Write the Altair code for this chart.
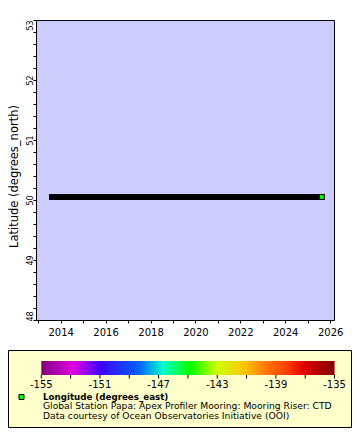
import altair as alt
import pandas as pd

# ---- data ----
track_time = ["2013-08-12", "2025-08-17"]
track_lat = [50.05, 50.05]
last_time = ["2025-08-17"]
last_lat = [50.05]
last_lon = [-144.85]

year_ticks = list(range(2013, 2027))
lat_ticks = [round(48 + 0.2 * i, 1) for i in range(26)]

cbar_stops = [-155, -152.8, -151, -148.3, -146.7, -144.85, -143, -141, -139.9, -138.3, -137.1, -135]
cbar_colors = ["#800080", "#e000e0", "#4000ff", "#0064ff", "#00ffc8", "#00ff00",
               "#d0ff00", "#ffc000", "#ff8000", "#ff4000", "#e00000", "#800000"]
cbar_tick_values = [-155, -153, -151, -149, -147, -145, -143, -141, -139, -137, -135]
cbar_label_values = [-155, -151, -147, -143, -139, -135]

legend_title = "Longitude (degrees_east)"
legend_lines = ["Global Station Papa: Apex Profiler Mooring: Mooring Riser: CTD",
                "Data courtesy of Ocean Observatories Initiative (OOI)"]

FONT = "DejaVu Sans"
W, H = 299, 300

one = pd.DataFrame({"a": [0]})

x_scale = alt.Scale(type="utc",
                    domain=[alt.DateTime(year=2012, month=11, date=25, utc=True),
                            alt.DateTime(year=2026, month=3, date=21, utc=True)])
y_scale = alt.Scale(domain=[48, 53], nice=False, zero=False)
lon_color = alt.Scale(domain=cbar_stops, range=cbar_colors)

x_axis = alt.Axis(
    values=[alt.DateTime(year=y, month=1, date=1, utc=True) for y in year_ticks],
    tickCount=40,
    labelExpr="utcyear(datum.value) % 2 == 0 ? utcFormat(datum.value, '%Y') : ''",
    title=None, grid=False, domain=False, tickSize=3, tickColor="black",
    labelFontSize=10, labelPadding=4, labelColor="black", labelAngle=0,
    labelOverlap=False, labelFlush=False, labelBound=False,
)
y_axis = alt.Axis(
    values=lat_ticks,
    tickCount=40,
    labelExpr="abs(datum.value - round(datum.value)) < 0.001 ? format(datum.value, 'd') : ''",
    title="Latitude (degrees_north)", titleFontSize=11.5, titleFontWeight="normal",
    titleColor="black", titleX=-21.5, titleY=156, titleAlign="center", titleBaseline="middle",
    grid=False, domain=False, tickSize=3, tickColor="black",
    labelFontSize=8, labelAngle=-90, labelAlign="center", labelBaseline="alphabetic",
    labelPadding=1, labelColor="black", labelOverlap=False, labelFlush=False, labelBound=False,
    labelOffset={"condition": [{"test": "datum.value >= 52.99", "value": 5},
                               {"test": "datum.value <= 48.01", "value": -4}],
                 "value": 0},
)

track = alt.Chart(pd.DataFrame({"time": track_time, "lat": track_lat})).mark_line(
    color="black", strokeWidth=6, strokeCap="square"
).encode(
    x=alt.X("time:T", scale=x_scale, axis=x_axis),
    y=alt.Y("lat:Q", scale=y_scale, axis=y_axis),
)
end_pt = alt.Chart(pd.DataFrame({"time": last_time, "lat": last_lat, "lon": last_lon})).mark_square(
    size=25, stroke="black", strokeWidth=1, opacity=1, filled=True
).encode(
    x=alt.X("time:T"),
    y=alt.Y("lat:Q"),
    fill=alt.Fill("lon:Q", scale=lon_color, legend=None),
)
border = alt.Chart(one).mark_rect(fill=None, stroke="black", strokeWidth=1).encode(
    x=alt.value(0.5), x2=alt.value(W - 0.5), y=alt.value(0.5), y2=alt.value(H + 0.5)
)
main = alt.layer(track, end_pt, border)

# ---- legend panel ----
box = alt.Chart(one).mark_rect(fill="#ffffcc", stroke="black", strokeWidth=1).encode(
    x=alt.value(-27.5), x2=alt.value(315.5), y=alt.value(330.5), y2=alt.value(407.5)
)
cb_scale = alt.Scale(domain=[-155.36, -134.97], nice=False, zero=False)
grad = alt.Gradient(
    gradient="linear",
    stops=[alt.GradientStop(color=c, offset=(v + 155) / 20) for v, c in zip(cbar_stops, cbar_colors)],
    x1=0, x2=1, y1=0, y2=0,
)
cbar = alt.Chart(pd.DataFrame({"lo": [-155], "hi": [-135]})).mark_rect(fill=grad).encode(
    x=alt.X("lo:Q", scale=cb_scale, axis=None), x2="hi:Q",
    y=alt.value(341), y2=alt.value(355),
)
cticks = alt.Chart(pd.DataFrame({"v": cbar_tick_values})).mark_rule(color="black", strokeWidth=1).encode(
    x=alt.X("v:Q", scale=cb_scale, axis=None), y=alt.value(355), y2=alt.value(358.5)
)
clabels = alt.Chart(pd.DataFrame({"v": cbar_label_values,
                                  "t": [str(v) for v in cbar_label_values]})).mark_text(
    fontSize=10, align="center", baseline="middle", color="black"
).encode(x=alt.X("v:Q", scale=cb_scale, axis=None), y=alt.value(364.5), text="t:N")
cb_group = alt.layer(cbar, cticks, clabels)

leg_sq = alt.Chart(pd.DataFrame({"lon": last_lon})).mark_square(
    size=25, stroke="black", strokeWidth=1, opacity=1, filled=True
).encode(x=alt.value(-14.5), y=alt.value(377), fill=alt.Fill("lon:Q", scale=lon_color, legend=None))
leg_title = alt.Chart(pd.DataFrame({"t": [legend_title]})).mark_text(
    fontSize=8.7, fontWeight="bold", align="left", baseline="alphabetic", color="black"
).encode(x=alt.value(7), y=alt.value(379.5), text="t:N")
leg_l1 = alt.Chart(pd.DataFrame({"t": [legend_lines[0]]})).mark_text(
    fontSize=9.2, align="left", baseline="alphabetic", color="black"
).encode(x=alt.value(7), y=alt.value(389), text="t:N")
leg_l2 = alt.Chart(pd.DataFrame({"t": [legend_lines[1]]})).mark_text(
    fontSize=9.2, align="left", baseline="alphabetic", color="black"
).encode(x=alt.value(7), y=alt.value(398.5), text="t:N")

chart = alt.layer(box, main, cb_group, leg_sq, leg_title, leg_l1, leg_l2).resolve_scale(
    x="independent"
).properties(
    width=W, height=H,
    autosize=alt.AutoSizeParams(type="none"),
    padding={"left": 28, "top": 12, "right": 17, "bottom": 108},
).configure(font=FONT).configure_view(fill="#ccccff", stroke=None)

chart.save("out.html", embed_options={"renderer": "svg", "actions": False})
